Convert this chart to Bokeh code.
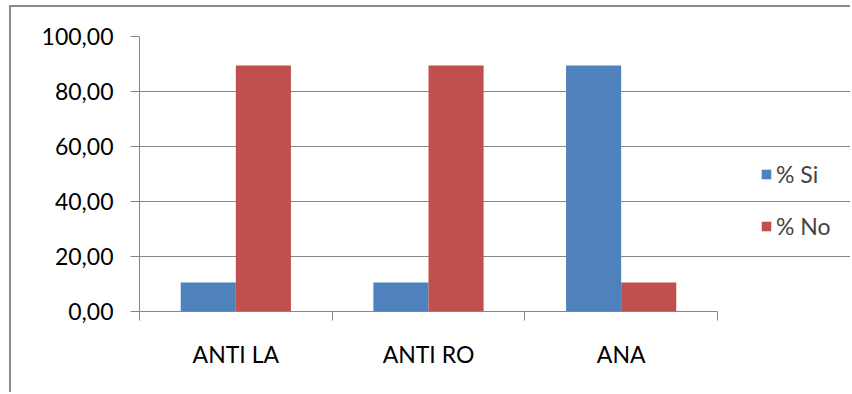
import numpy as np
from bokeh.plotting import figure
from bokeh.models import ColumnDataSource, FixedTicker, Legend, LegendItem, Range1d
from bokeh.embed import file_html
from bokeh.resources import INLINE

# Survey results per antibody test
categories = ["ANTI LA", "ANTI RO", "ANA"]
pct_si = [10.53, 10.53, 89.47]
pct_no = [89.47, 89.47, 10.53]
series_names = ["% Si", "% No"]
y_ticks = [0, 20, 40, 60, 80, 100]
y_tick_labels = ["0,00", "20,00", "40,00", "60,00", "80,00", "100,00"]

BLUE = "#4F81BD"
RED = "#C0504D"
AXIS_GRAY = "#868686"
FONT = "Lato"
FONT_SIZE = "23px"

W, H = 841, 387
LEFT, TOP, BOTTOM = 128, 29, 83
PLOT_W = 578                      # pixel width of the bar area

n = len(categories)
centers = np.arange(n) + 0.5
bar_w = 0.286
# the frame runs on to the right edge so the legend can live inside it;
# axis and grid are bounded to the bar area
x_end = n * (W - LEFT) / PLOT_W

src = ColumnDataSource(dict(
    x_si=centers - bar_w / 2,
    x_no=centers + bar_w / 2,
    si=pct_si,
    no=pct_no,
))

p = figure(
    width=W, height=H,
    x_range=Range1d(0, x_end),
    y_range=Range1d(0, 100),
    output_backend="svg", toolbar_location=None,
    min_border_left=LEFT, min_border_right=0,
    min_border_top=TOP, min_border_bottom=BOTTOM,
    styles={
        "margin-left": "9px", "margin-top": "5px",
        "border-left": "2px solid #8a8a8a", "border-top": "2px solid #8a8a8a",
    },
)
p.outline_line_color = None
p.background_fill_color = "white"
p.border_fill_color = "white"

r_si = p.vbar(x="x_si", top="si", width=bar_w, source=src, fill_color=BLUE, line_color=None)
r_no = p.vbar(x="x_no", top="no", width=bar_w, source=src, fill_color=RED, line_color=None)

# x axis: labels at category centers, small ticks at category boundaries
xa = p.xaxis[0]
xa.bounds = (0, n)
xa.ticker = FixedTicker(ticks=list(centers), minor_ticks=list(range(n + 1)))
xa.major_label_overrides = {float(c): lab for c, lab in zip(centers, categories)}
xa.major_tick_out = 0
xa.major_tick_in = 0
xa.minor_tick_out = 9
xa.minor_tick_in = 0
xa.minor_tick_line_color = AXIS_GRAY
xa.axis_line_color = AXIS_GRAY
xa.major_label_standoff = 19
xa.major_label_text_font = FONT
xa.major_label_text_font_size = FONT_SIZE
xa.major_label_text_color = "black"

ya = p.yaxis[0]
ya.ticker = FixedTicker(ticks=y_ticks)
ya.major_label_overrides = {t: lab for t, lab in zip(y_ticks, y_tick_labels)}
ya.major_tick_out = 9
ya.major_tick_in = 0
ya.minor_tick_out = 0
ya.minor_tick_in = 0
ya.major_tick_line_color = AXIS_GRAY
ya.axis_line_color = AXIS_GRAY
ya.major_label_standoff = 17
ya.major_label_text_font = FONT
ya.major_label_text_font_size = FONT_SIZE
ya.major_label_text_color = "black"

p.xgrid.grid_line_color = None
p.ygrid.ticker = FixedTicker(ticks=y_ticks[1:])
p.ygrid.bounds = (0, n)
p.ygrid.grid_line_color = AXIS_GRAY

legend = Legend(
    items=[LegendItem(label=series_names[0], renderers=[r_si]),
           LegendItem(label=series_names[1], renderers=[r_no])],
    location=(621, 71),
    glyph_width=12, glyph_height=12,
    label_standoff=4, spacing=24, padding=0, margin=0,
    label_text_font=FONT, label_text_font_size=FONT_SIZE,
    border_line_color=None, background_fill_alpha=0,
)
p.add_layout(legend, "center")

open("out.html", "w").write(file_html(p, INLINE))
